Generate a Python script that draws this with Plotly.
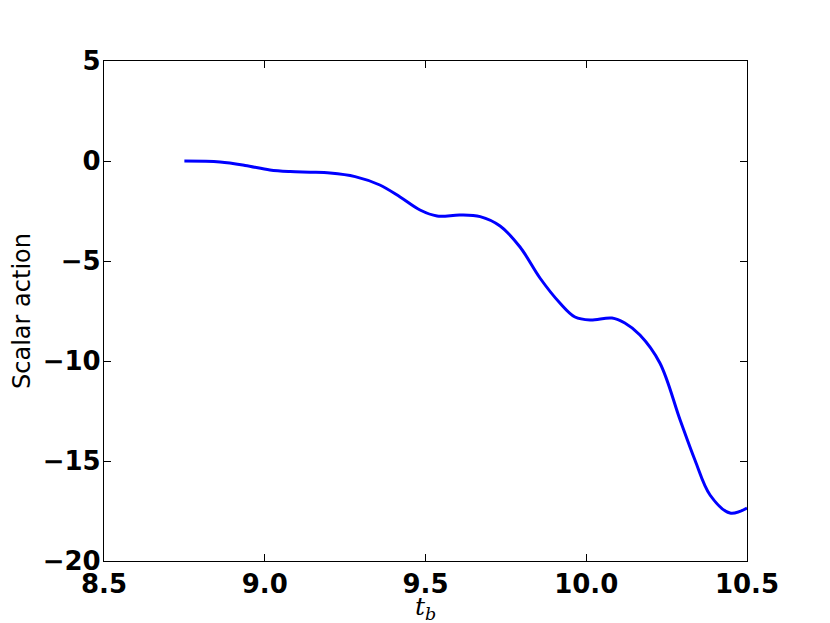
import plotly.graph_objects as go

# Data
t_b = [8.75, 8.861, 8.939, 9.016, 9.079, 9.141, 9.203, 9.281, 9.358, 9.421, 9.483,
       9.536, 9.607, 9.670, 9.732, 9.794, 9.856, 9.918, 9.965, 10.012, 10.080,
       10.12, 10.167, 10.229, 10.292, 10.338, 10.385, 10.447, 10.5]
scalar_action = [0.0, -0.05, -0.22, -0.45, -0.53, -0.56, -0.6, -0.78, -1.2, -1.8, -2.45,
                 -2.75, -2.7, -2.78, -3.25, -4.3, -5.85, -7.1, -7.8, -7.95, -7.85,
                 -8.1, -8.7, -10.1, -12.95, -14.95, -16.7, -17.6, -17.35]

x_ticks = [8.5, 9.0, 9.5, 10.0, 10.5]
y_ticks = [5, 0, -5, -10, -15, -20]

fig = go.Figure()
fig.add_trace(go.Scatter(
    x=t_b, y=scalar_action, mode="lines",
    line=dict(color="#0000ff", width=3, shape="spline", smoothing=1.0),
    showlegend=False,
))

tickfont = dict(family="DejaVu Sans", size=26, color="black", weight="bold")
axis_common = dict(
    showgrid=False, zeroline=False, showline=True, linecolor="black", linewidth=1.3,
    mirror="ticks", ticks="inside", ticklen=7, tickwidth=1, tickcolor="black",
    tickfont=tickfont, automargin=False,
)

fig.update_layout(
    width=822, height=615,
    margin=dict(l=96, r=83, t=53, b=62),
    paper_bgcolor="white", plot_bgcolor="white",
    xaxis=dict(range=[8.5, 10.5], tickvals=x_ticks,
               ticktext=[f"{v:.1f}" for v in x_ticks],
               **axis_common),
    yaxis=dict(range=[-20, 5], tickvals=y_ticks,
               ticktext=[str(v).replace("-", "\u2212") for v in y_ticks],
               ticklabelstandoff=-3,
               title=dict(text="Scalar action",
                          font=dict(family="DejaVu Sans", size=24, color="black"),
                          standoff=12),
               **axis_common),
    annotations=[dict(
        text="<i>t<sub>b</sub></i>", xref="paper", yref="paper", x=0.5, y=0,
        xanchor="center", yanchor="middle", yshift=-47, showarrow=False,
        font=dict(family="DejaVu Serif", size=25, color="black"),
    )],
)

fig.write_html("out.html")
